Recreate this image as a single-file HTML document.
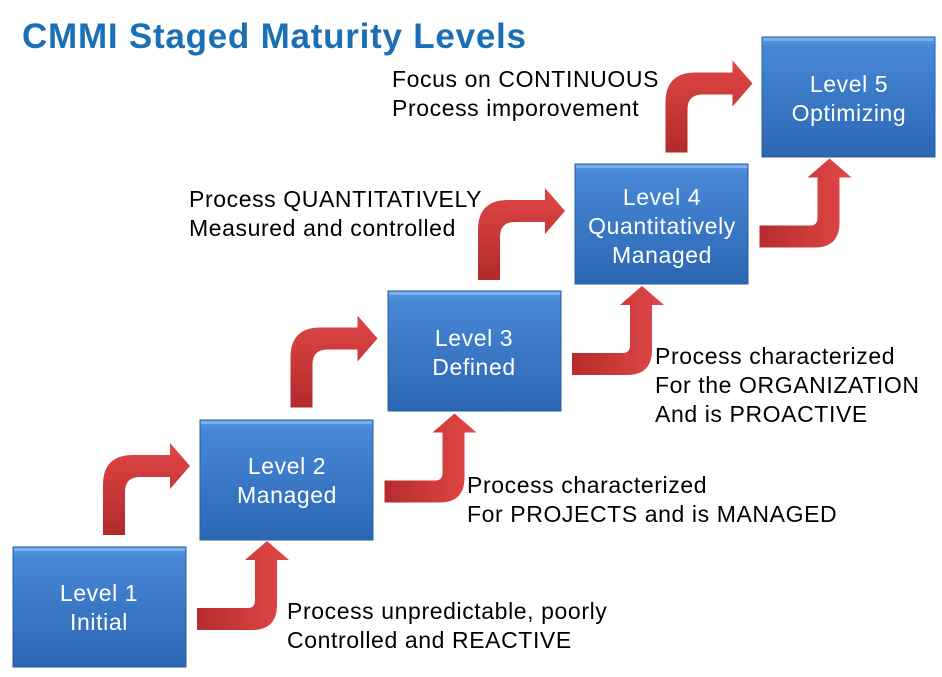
<!DOCTYPE html>
<html><head><style>
body{margin:0;width:942px;height:677px;background:#fff;overflow:hidden;position:relative;font-family:"Liberation Sans",sans-serif;}
.t{position:absolute;font-size:23px;letter-spacing:0.6px;line-height:29px;color:#000;white-space:nowrap;}
</style></head><body>
<svg width="942" height="677" style="position:absolute;left:0;top:0">
<defs>
<linearGradient id="b" x1="0" y1="0" x2="0" y2="1"><stop offset="0" stop-color="#5b9be2"/><stop offset="0.08" stop-color="#4788d6"/><stop offset="1" stop-color="#2b66b3"/></linearGradient>
<linearGradient id="ru" x1="0" y1="1" x2="0" y2="0"><stop offset="0" stop-color="#b22a2a"/><stop offset="1" stop-color="#e04646"/></linearGradient>
<linearGradient id="rl" x1="0" y1="0" x2="1" y2="0"><stop offset="0" stop-color="#b52c2c"/><stop offset="1" stop-color="#e24848"/></linearGradient>
<g id="box"><rect x="0" y="0" width="173" height="120" fill="url(#b)" stroke="#2a5e9e" stroke-width="1"/><rect x="1" y="1" width="171" height="3" fill="#8cbcf0" opacity="0.7"/></g>
<path id="up" d="M103 535 L103 485 Q103 455 133 455 L170 455 L170 443 L190 466 L170 489 L170 477 L140 477 Q125 477 125 492 L125 535 Z" fill="url(#ru)"/>
<path id="lo" d="M197 608 L248 608 Q255 608 255 600 L255 560 L245 560 L267 541 L289 560 L277 560 L277 605 Q277 630 252 630 L197 630 Z" fill="url(#rl)"/>
</defs>
<g fill="none">
<use href="#up"/><use href="#up" transform="translate(187.5,-127.5)"/><use href="#up" transform="translate(375,-255)"/><use href="#up" transform="translate(562.5,-382.5)"/>
<use href="#lo"/><use href="#lo" transform="translate(187.5,-127.5)"/><use href="#lo" transform="translate(375,-255)"/><use href="#lo" transform="translate(562.5,-382.5)"/>
</g>
<use href="#box" transform="translate(13,547)"/>
<use href="#box" transform="translate(200,420)"/>
<use href="#box" transform="translate(388,291)"/>
<use href="#box" transform="translate(575,164)"/>
<use href="#box" transform="translate(762,37)"/>
<g fill="#fff" font-family="Liberation Sans, sans-serif" font-size="23" letter-spacing="0.6" text-anchor="middle">
<text x="99" y="601">Level 1</text><text x="99" y="630">Initial</text>
<text x="287" y="474">Level 2</text><text x="287" y="503">Managed</text>
<text x="474" y="346">Level 3</text><text x="474" y="375">Defined</text>
<text x="662" y="205">Level 4</text><text x="662" y="234">Quantitatively</text><text x="662" y="263">Managed</text>
<text x="849" y="92">Level 5</text><text x="849" y="121">Optimizing</text>
</g>
<text x="22" y="48" fill="#1a6fb5" font-family="Liberation Sans, sans-serif" font-size="35" font-weight="bold" letter-spacing="1" textLength="505">CMMI Staged Maturity Levels</text>
</svg>
<div class="t" style="left:287px;top:597px">Process unpredictable, poorly<br>Controlled and REACTIVE</div>
<div class="t" style="left:467px;top:471px">Process characterized<br>For PROJECTS and is MANAGED</div>
<div class="t" style="left:655px;top:342px">Process characterized<br>For the ORGANIZATION<br>And is PROACTIVE</div>
<div class="t" style="left:189px;top:185px">Process QUANTITATIVELY<br>Measured and controlled</div>
<div class="t" style="left:392px;top:65px">Focus on CONTINUOUS<br>Process imporovement</div>
</body></html>
